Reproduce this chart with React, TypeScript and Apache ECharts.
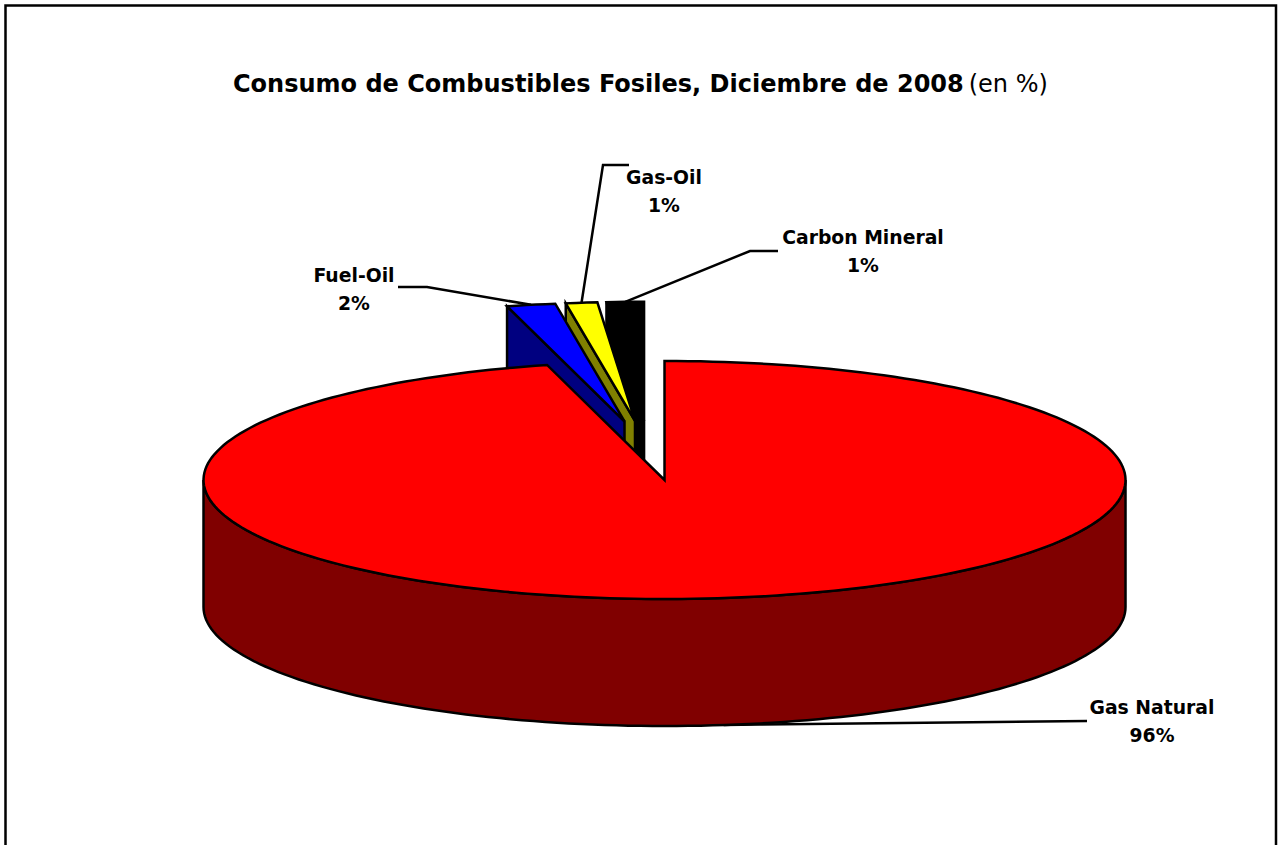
import React, { useEffect, useRef } from "react";
import * as echarts from "echarts";

const categories = ["Gas Natural", "Fuel-Oil", "Gas-Oil", "Carbon Mineral"];
const shares = [95.9, 1.7, 1.1, 1.3];

const topColors = ["#ff0000", "#0000ff", "#ffff00", "#000000"];
const sideColors = ["#800000", "#000080", "#808000", "#000000"];

const titleBold = "Consumo de Combustibles Fosiles, Diciembre de 2008";
const titleNormal = "(en %)";

const FONT = "'DejaVu Sans', sans-serif";
const CX = 649;
const CY = 450.5;
const RX = 461;
const RY = 119;
const DEPTH = 127;
const EXPLODE_X = 0.262;
const EXPLODE_Y = 0.25;
// label centre, then the elbow of its leader line and the line's free end
const labelLayout = [
  { x: 1152, y: 721, elbow: [760, 724.5], end: [1087, 721] },
  { x: 354, y: 289, elbow: [427, 287], end: [398, 287] },
  { x: 664, y: 191, elbow: [603, 165], end: [629, 165] },
  { x: 863, y: 251, elbow: [750, 251], end: [778, 251] },
];

const total = shares.reduce((a, b) => a + b, 0);
const spans = (() => {
  let acc = 0;
  return shares.map((s) => {
    const start = acc;
    acc += (s / total) * 360;
    return [start, acc];
  });
})();
const drawOrder = [3, 2, 1, 0];

const rad = (d: number) => (d * Math.PI) / 180;
const onRim = (c: number[], d: number, dy = 0) => [
  c[0] + RX * Math.sin(rad(d)),
  c[1] - RY * Math.cos(rad(d)) + dy,
];
const arcPts = (c: number[], a: number, b: number, dy = 0) => {
  const n = Math.max(2, Math.ceil(Math.abs(b - a) / 1.5));
  const out: number[][] = [];
  for (let i = 0; i <= n; i++) out.push(onRim(c, a + ((b - a) * i) / n, dy));
  return out;
};
const toPath = (p: number[][]) =>
  "M" + p.map((q) => q[0].toFixed(2) + " " + q[1].toFixed(2)).join("L") + "Z";

function renderItem(params: any, api: any) {
  const idx = drawOrder[params.dataIndex];
  const start = api.value(0);
  const end = api.value(1);
  const mid = (start + end) / 2;
  const c = [
    CX + EXPLODE_X * RX * Math.sin(rad(mid)),
    CY - EXPLODE_Y * RY * Math.cos(rad(mid)),
  ];
  const stroke = { stroke: "#000", lineWidth: 2.5, lineJoin: "miter" };
  const poly = (pts: number[][], fill: string) => ({
    type: "path",
    shape: { pathData: toPath(pts) },
    style: { fill, ...stroke },
    silent: true,
  });
  const children: any[] = [];
  const layout = labelLayout[idx];
  const tip = idx === 0 ? onRim(c, mid, DEPTH) : onRim(c, mid);
  const leader = {
    type: "polyline",
    shape: { points: [tip, layout.elbow, layout.end] },
    style: { stroke: "#000", lineWidth: 2.5, fill: "none" },
    silent: true,
  };
  children.push(leader);
  // outer wall, on the part of the rim that faces the viewer
  const wallA = Math.max(start, 90);
  const wallB = Math.min(end, 270);
  if (wallB > wallA) {
    children.push(
      poly([...arcPts(c, wallA, wallB), ...arcPts(c, wallB, wallA, DEPTH)], sideColors[idx])
    );
  }
  // cut face that faces the viewer on the slices behind the centre
  if (start > 270) {
    const rim = onRim(c, start);
    children.push(
      poly([c, rim, [rim[0], rim[1] + DEPTH], [c[0], c[1] + DEPTH]], sideColors[idx])
    );
  }
  children.push(poly([c, ...arcPts(c, start, end)], topColors[idx]));
  children.push({
    type: "text",
    silent: true,
    style: {
      x: layout.x,
      y: layout.y,
      text: categories[idx] + "\n" + Math.round(shares[idx]) + "%",
      fill: "#000",
      fontFamily: FONT,
      fontWeight: "bold",
      fontSize: 18.8,
      lineHeight: 28,
      align: "center",
      verticalAlign: "middle",
    },
  });
  return { type: "group", children };
}

export default function App() {
  const ref = useRef<HTMLDivElement>(null);
  useEffect(() => {
    const chart = echarts.init(ref.current!, null, { renderer: "svg" });
    chart.setOption({
      animation: false,
      backgroundColor: "#ffffff",
      title: {
        left: 228,
        top: 63,
        text: `{b|${titleBold}} {n|${titleNormal}}`,
        textStyle: {
          rich: {
            b: { fontFamily: FONT, fontWeight: "bold", fontSize: 24, color: "#000", lineHeight: 32 },
            n: { fontFamily: FONT, fontWeight: "normal", fontSize: 24, color: "#000", lineHeight: 32 },
          },
        },
      },
      graphic: [
        {
          type: "rect",
          shape: { x: 5.5, y: 5.5, width: 1270.5, height: 860 },
          style: { fill: "none", stroke: "#000", lineWidth: 2.5 },
          silent: true,
        },
      ],
      series: [
        {
          type: "custom",
          coordinateSystem: "none",
          silent: true,
          renderItem,
          data: drawOrder.map((i) => ({ name: categories[i], value: spans[i] })),
        },
      ],
    });
    return () => chart.dispose();
  }, []);
  return (
    <div
      ref={ref}
      style={{ position: "fixed", left: 0, top: 0, width: 1280, height: 845, background: "#fff" }}
    />
  );
}
